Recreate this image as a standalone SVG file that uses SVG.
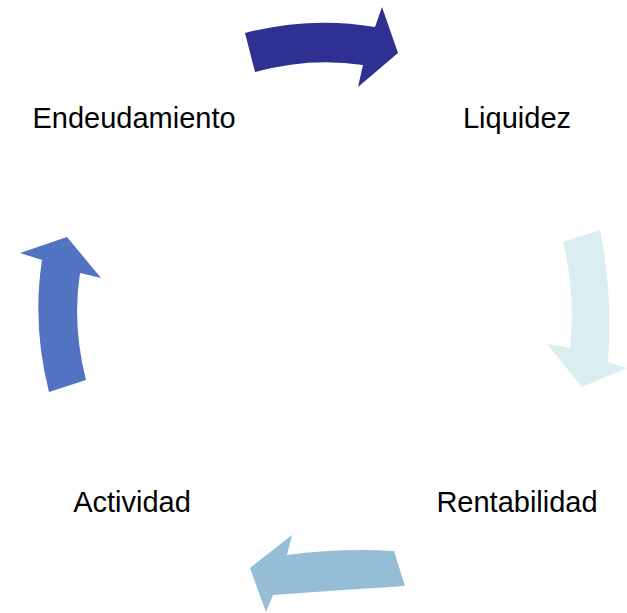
<svg xmlns="http://www.w3.org/2000/svg" width="627" height="613" viewBox="0 0 627 613">
<style>
.lbl{font-family:"Liberation Sans",Arial,sans-serif;font-size:29px;fill:#000;text-anchor:middle}
</style>
<rect width="627" height="613" fill="#fff"/>
<g id="connectors">
<path id="arrow-top" fill="#2E3192" d="M245,33 Q310,16 375,27 L382,7 L398,53 L358,87 L363,65 Q310,57 255,72 Z"/>
<path id="arrow-right" fill="#DAEDF0" d="M600,230 Q613,295 608,362 L627,368 L582,387 L547,344 L570,348 Q576,295 563,242 Z"/>
<path id="arrow-bottom" fill="#96BDD6" d="M394,551 Q340,548 287,555 L292,535 L250,568 L266,612 L273,595 Q340,590 405,586 Z"/>
<path id="arrow-left" fill="#5273C1" d="M49,392 Q32,325 42,260 L20,253 L67,237 L101,278 L80,273 Q72,325 86,380 Z"/>
</g>
<g id="node-endeudamiento"><text class="lbl" x="134" y="128">Endeudamiento</text></g>
<g id="node-liquidez"><text class="lbl" x="517" y="128">Liquidez</text></g>
<g id="node-rentabilidad"><text class="lbl" x="517" y="512">Rentabilidad</text></g>
<g id="node-actividad"><text class="lbl" x="132" y="512">Actividad</text></g>
</svg>
